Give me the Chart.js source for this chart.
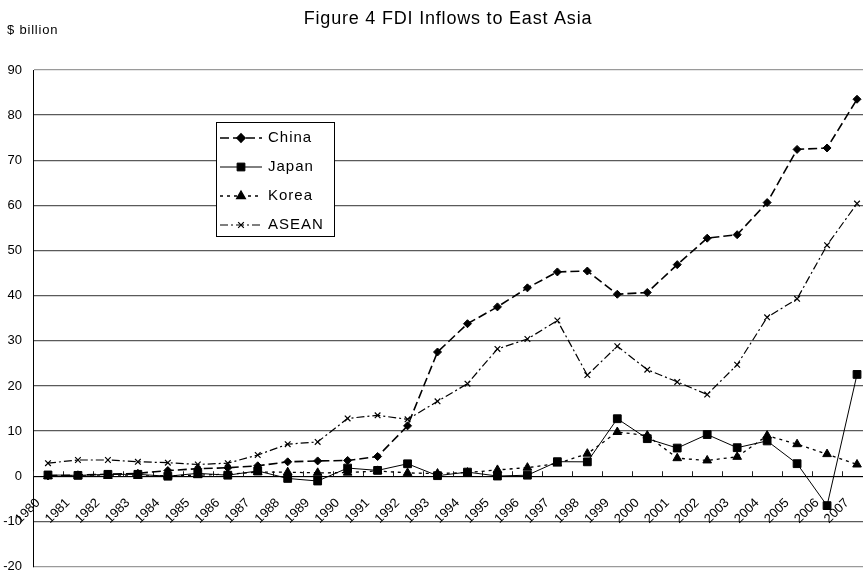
<!DOCTYPE html>
<html>
<head>
<meta charset="utf-8">
<title>FDI Inflows to East Asia</title>
<script src="https://cdn.jsdelivr.net/npm/chart.js@4"></script>
<style>
  html, body { margin: 0; padding: 0; background: #fff; overflow: hidden; }
  #wrap { width: 880px; height: 573px; position: relative; }
</style>
</head>
<body>
<div id="wrap"><canvas id="fdi"></canvas></div>
<script>
// FDI inflows, $ billion, 1980-2007
const years = ['1980','1981','1982','1983','1984','1985','1986','1987','1988','1989',
               '1990','1991','1992','1993','1994','1995','1996','1997','1998','1999',
               '2000','2001','2002','2003','2004','2005','2006','2007'];
const china = [0.06, 0.27, 0.43, 0.64, 1.26, 1.66, 1.88, 2.31, 3.19, 3.39,
               3.49, 4.37, 11.16, 27.52, 33.79, 37.52, 41.73, 45.26, 45.46, 40.32,
               40.71, 46.88, 52.74, 53.51, 60.63, 72.41, 72.72, 83.52];
const japan = [0.28, 0.19, 0.42, 0.42, 0.0, 0.64, 0.23, 1.17, -0.49, -1.06,
               1.81, 1.29, 2.76, 0.12, 0.91, 0.04, 0.23, 3.22, 3.19, 12.74,
               8.32, 6.24, 9.24, 6.32, 7.82, 2.78, -6.51, 22.55];
const korea = [0.01, 0.10, 0.07, 0.07, 0.11, 0.23, 0.46, 0.9, 0.89, 0.75,
               0.79, 1.18, 0.73, 0.59, 0.81, 1.4, 1.9, 2.8, 5.0, 9.8,
               9.0, 4.0, 3.5, 4.3, 9.0, 7.1, 4.9, 2.6];
const asean = [2.9, 3.6, 3.6, 3.2, 3.0, 2.6, 2.9, 4.7, 7.1, 7.6,
               12.8, 13.5, 12.6, 16.6, 20.5, 28.2, 30.4, 34.5, 22.4, 28.8,
               23.6, 20.9, 18.1, 24.7, 35.2, 39.3, 51.2, 60.4];
const seriesNames = ['China', 'Japan', 'Korea', 'ASEAN'];
const yMin = -20, yMax = 90, yStep = 10;
const titleText = 'Figure 4 FDI Inflows to East Asia';
const unitText = '$ billion';

const FONT = '"Liberation Sans", Arial, sans-serif';

// Title and unit caption above the plot
const headerText = {
  id: 'headerText',
  afterDraw(chart) {
    const ctx = chart.ctx;
    ctx.save();
    ctx.fillStyle = '#000';
    ctx.letterSpacing = '0.8px';
    ctx.font = '18px ' + FONT;
    ctx.textAlign = 'center';
    ctx.textBaseline = 'middle';
    ctx.fillText(titleText, 448, 19);
    ctx.font = '13px ' + FONT;
    ctx.textAlign = 'left';
    ctx.fillText(unitText, 7, 30);
    ctx.letterSpacing = '0px';
    ctx.restore();
  }
};

// Short tick marks on the zero line at category boundaries
const categoryTicks = {
  id: 'categoryTicks',
  beforeDatasetsDraw(chart) {
    const x = chart.scales.x, y = chart.scales.y, ctx = chart.ctx;
    const step = x.getPixelForValue(1) - x.getPixelForValue(0);
    const y0 = y.getPixelForValue(0);
    ctx.save();
    ctx.strokeStyle = '#222';
    ctx.lineWidth = 1;
    ctx.beginPath();
    for (let i = 0; i <= years.length; i++) {
      const px = Math.round(x.getPixelForValue(i) - step / 2) + 0.5;
      ctx.moveTo(px, y0 - 5);
      ctx.lineTo(px, y0);
    }
    ctx.stroke();
    ctx.restore();
  }
};

// Boxed legend inside the plot area
const boxLegend = {
  id: 'boxLegend',
  afterDatasetsDraw(chart) {
    const ctx = chart.ctx, area = chart.chartArea;
    const bx = area.left + 183, by = area.top + 52, bw = 118, bh = 114;
    ctx.save();
    ctx.fillStyle = '#fff';
    ctx.fillRect(bx, by, bw, bh);
    ctx.strokeStyle = '#000';
    ctx.lineWidth = 1;
    ctx.strokeRect(bx + 0.5, by + 0.5, bw, bh);
    chart.data.datasets.forEach((ds, i) => {
      const cy = by + 16 + i * 29;
      ctx.strokeStyle = '#000';
      ctx.fillStyle = '#000';
      ctx.lineWidth = ds.borderWidth;
      ctx.setLineDash(ds.borderDash || []);
      ctx.beginPath();
      ctx.moveTo(bx + 4, cy);
      ctx.lineTo(bx + 46, cy);
      ctx.stroke();
      ctx.setLineDash([]);
      Chart.helpers.drawPoint(ctx, {
        pointStyle: ds.pointStyle,
        radius: ds.pointRadius,
        rotation: 0,
        borderWidth: ds.pointBorderWidth || 1
      }, bx + 25, cy);
      ctx.letterSpacing = '1px';
      ctx.font = '15px ' + FONT;
      ctx.textAlign = 'left';
      ctx.textBaseline = 'middle';
      ctx.fillText(ds.label, bx + 52, cy);
      ctx.letterSpacing = '0px';
    });
    ctx.restore();
  }
};

const common = { borderColor: '#000', backgroundColor: '#000', pointBorderColor: '#000',
                 pointBackgroundColor: '#000', fill: false, tension: 0 };

new Chart(document.getElementById('fdi'), {
  type: 'line',
  data: {
    labels: years,
    datasets: [
      Object.assign({ label: seriesNames[0], data: china, borderWidth: 1.6, borderDash: [9, 4],
                      pointStyle: 'rectRot', pointRadius: 4, pointBorderWidth: 1 }, common),
      Object.assign({ label: seriesNames[1], data: japan, borderWidth: 1,
                      pointStyle: 'rect', pointRadius: 5.5, pointBorderWidth: 1 }, common),
      Object.assign({ label: seriesNames[2], data: korea, borderWidth: 1.3, borderDash: [3, 4],
                      pointStyle: 'triangle', pointRadius: 5, pointBorderWidth: 1 }, common),
      Object.assign({ label: seriesNames[3], data: asean, borderWidth: 1.2, borderDash: [8, 3, 2, 3],
                      pointStyle: 'crossRot', pointRadius: 4, pointBorderWidth: 1.2 }, common)
    ]
  },
  options: {
    responsive: true,
    maintainAspectRatio: false,
    animation: false,
    layout: { padding: { top: 70, left: 0, right: 8, bottom: 5 } },
    plugins: {
      legend: { display: false },
      title: { display: false },
      tooltip: { enabled: false }
    },
    scales: {
      x: {
        type: 'category',
        offset: true,
        position: { y: 0 },
        grid: { display: false, offset: true },
        border: { display: true, color: '#000', width: 1 },
        ticks: {
          autoSkip: false, minRotation: 45, maxRotation: 45, padding: 11, labelOffset: -10,
          color: '#000', font: { size: 13, family: FONT }
        },
        afterFit(s) { s.height = 0; s.paddingLeft = 0; s.paddingRight = 0; }
      },
      y: {
        min: yMin,
        max: yMax,
        ticks: { stepSize: yStep, padding: 11, color: '#000', font: { size: 13, family: FONT } },
        grid: {
          drawTicks: false,
          color: (c) => (c.tick && (c.tick.value === yMax || c.tick.value === yMin)) ? '#9a9a9a' : '#5a5a5a',
          lineWidth: 1.3
        },
        border: { color: '#000', width: 1 },
        afterFit(s) { s.width = 33; s.paddingTop = 0; s.paddingBottom = 0; }
      }
    }
  },
  plugins: [categoryTicks, boxLegend, headerText]
});
</script>
</body>
</html>
